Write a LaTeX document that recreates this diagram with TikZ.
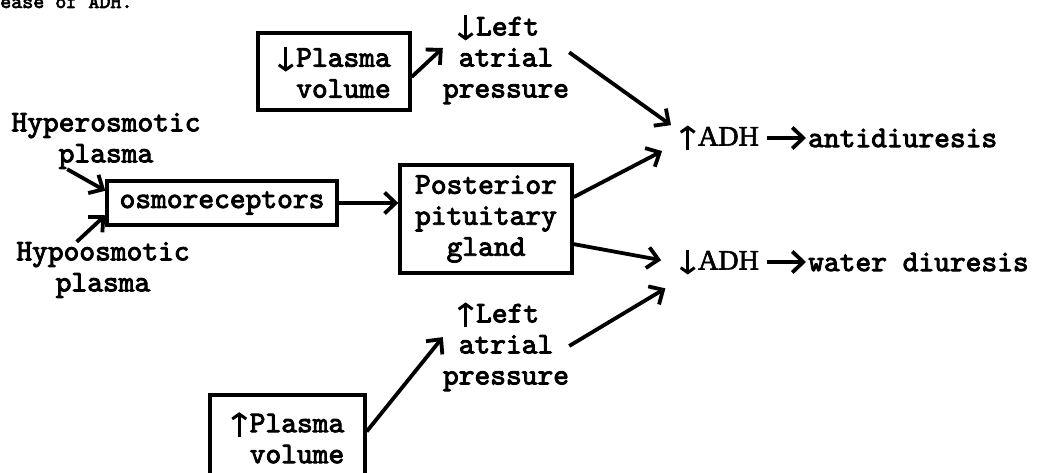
\documentclass[tikz,border=0pt]{standalone}
\usepackage{fontspec}
\usetikzlibrary{arrows.meta}
\newfontfamily\typew[FakeBold=3]{lmmono10-regular.otf}
\newfontfamily\adhf[FakeBold=2]{Liberation Serif}
\newcommand{\incr}{\tikz[baseline=0pt]\draw[line width=3pt,-{Straight Barb[length=5pt,width=14pt]}] (0,-5pt) -- (0,20pt);\hspace{2pt}}
\newcommand{\decr}{\tikz[baseline=0pt]\draw[line width=3pt,-{Straight Barb[length=5pt,width=14pt]}] (0,20pt) -- (0,-5pt);\hspace{2pt}}
\newcommand{\adh}{{\adhf\fontsize{28}{31}\selectfont ADH}}

\tikzset{
	box/.style={draw, line width=3.4pt, inner sep=0pt},
	txt/.style={align=center, inner sep=0pt},
	adhnode/.style={inner xsep=8pt, inner ysep=6pt, anchor=west},
	conn/.style={line width=3.8pt, -{Straight Barb[length=11pt,width=21pt]}},
}

\begin{document}
\begin{tikzpicture}[x=1pt, y=-1pt, font=\typew\fontsize{30}{31}\selectfont]
	\useasboundingbox (0,0) rectangle (1039,473);
	\node (ease) at (0,8) [anchor=base west, inner sep=0pt]{\fontsize{21}{24}\selectfont ease of ADH.};
	
	\node (pvtop) at (334,71.5) [box, minimum width=152pt, minimum height=77pt, align=right]{\decr Plasma\\volume};
	\node (pvbot) at (287.5,437) [box, minimum width=155pt, minimum height=84pt, align=right]{\incr Plasma\\volume};
	\node (osmo) at (222,203) [box, minimum width=230pt, minimum height=44pt]{osmoreceptors};
	\node (pit) at (486,219) [box, minimum width=172pt, minimum height=108pt, align=center]{Posterior\\pituitary\\gland};
	
	\node (hyper) at (106,141) [txt]{Hyperosmotic\\plasma};
	\node (hypo) at (103,270) [txt]{Hypoosmotic\\plasma};
	\node (laptop) at (506,59) [txt]{\decr Left\phantom{x}\\atrial\\pressure};
	\node (lapbot) at (506,346) [txt]{\incr Left\phantom{x}\\atrial\\pressure};
	
	\node (adhup) at (671,138) [adhnode]{\incr\adh};
	\node (adhdn) at (671,262) [adhnode]{\decr\adh};
	\node (anti) at (806,138) [anchor=west, inner sep=2pt]{antidiuresis};
	\node (water) at (806,262) [anchor=west, inner sep=2pt]{water diuresis};
	
	\draw[conn] (pvtop.-4) -- (laptop.170);
	\draw[conn] (laptop.6) -- (adhup.165);
	\draw[conn, shorten >=10pt] (pit.14) -- (adhup.190);
	\draw[conn, shorten >=10pt] (pit.-16) -- (adhdn.west);
	\draw[conn, shorten >=12pt] (lapbot.east) -- (adhdn.205);
	\draw[conn] (pvbot.4) -- (lapbot.172);
	\draw[conn] (hyper.216) -- (osmo.174);
	\draw[conn] (hypo.133) -- (osmo.186);
	\draw[conn] (osmo.east) -- (osmo.east -| pit.west);
	\draw[conn] (adhup.east) -- (adhup.east -| anti.west);
	\draw[conn] (adhdn.east) -- (adhdn.east -| water.west);
\end{tikzpicture}
\end{document}
